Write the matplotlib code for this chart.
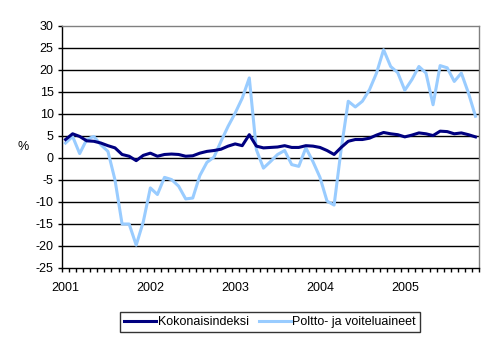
import matplotlib
matplotlib.use("Agg")
import matplotlib.pyplot as plt
import numpy as np

plt.rcParams['font.family'] = ['Liberation Sans', 'DejaVu Sans']
plt.rcParams['axes.unicode_minus'] = False

# monthly data, Jan 2001 - Nov 2005 (annual change, %)
years = ["2001", "2002", "2003", "2004", "2005"]
kokonais = [4.2, 5.5, 4.9, 3.9, 3.8, 3.4, 2.8, 2.3, 0.8, 0.4, -0.6, 0.6,
            1.1, 0.4, 0.8, 0.9, 0.8, 0.4, 0.5, 1.1, 1.5, 1.7, 2.0, 2.7,
            3.2, 2.8, 5.3, 2.7, 2.3, 2.4, 2.5, 2.8, 2.4, 2.4, 2.8, 2.7,
            2.4, 1.7, 0.8, 2.4, 3.8, 4.2, 4.2, 4.5, 5.2, 5.8, 5.5, 5.3,
            4.8, 5.2, 5.7, 5.5, 5.1, 6.1, 6.0, 5.5, 5.7, 5.3, 4.8]
poltto = [3.4, 4.9, 1.0, 4.2, 4.9, 3.0, 1.5, -5.0, -15.0, -15.0, -19.8, -14.5,
          -6.8, -8.3, -4.4, -4.9, -6.4, -9.3, -9.1, -4.0, -1.0, 0.2, 3.8, 7.2,
          10.2, 13.6, 18.2, 1.9, -2.3, -0.8, 0.8, 1.7, -1.5, -1.9, 2.3, -0.8,
          -4.4, -9.8, -10.7, 2.0, 12.9, 11.6, 12.9, 15.5, 19.3, 24.6, 20.8, 19.4,
          15.4, 17.8, 20.8, 19.3, 12.1, 21.0, 20.5, 17.4, 19.3, 14.8, 9.5]

x = np.arange(len(kokonais))

fig = plt.figure(figsize=(4.94, 3.42), dpi=100)
ax = fig.add_axes([62/494, 1-268/342, 417/494, 242/342])

# horizontal grid lines
for v in range(-20, 30, 5):
    ax.axhline(v, color='black', lw=1, zorder=1)

ax.plot(x, kokonais, color='#000080', lw=2.2, label='Kokonaisindeksi', zorder=3)
ax.plot(x, poltto, color='#99CCFF', lw=2.2, label='Poltto- ja voiteluaineet', zorder=2)

ax.set_xlim(-0.5, len(x) - 0.5)
ax.set_ylim(-25, 30)
ax.set_yticks(range(-25, 31, 5))
ax.set_xticks(np.arange(0, len(x), 12))
ax.set_xticklabels(years)
ax.set_xticks(np.arange(-0.5, len(x), 1), minor=True)

ax.tick_params(axis='x', which='major', length=0, pad=10, labelsize=9)
ax.tick_params(axis='x', which='minor', length=3, width=1, direction='out')
ax.tick_params(axis='y', length=3, width=1, pad=3, labelsize=9)

ax.spines['top'].set_color('#808080')
ax.spines['right'].set_color('#808080')
for s in ax.spines.values():
    s.set_linewidth(1)

fig.text(23/494, 1-147/342, '%', fontsize=9, ha='center', va='center')

leg = fig.legend(loc='center', bbox_to_anchor=(270/494, 1-322/342), ncol=2,
                 fontsize=9, frameon=True, fancybox=False, handlelength=2.6,
                 handletextpad=0.1, columnspacing=0.8, borderpad=0.35)
leg.get_frame().set_edgecolor('black')
leg.get_frame().set_linewidth(1)

fig.savefig('out.png', dpi=100)
